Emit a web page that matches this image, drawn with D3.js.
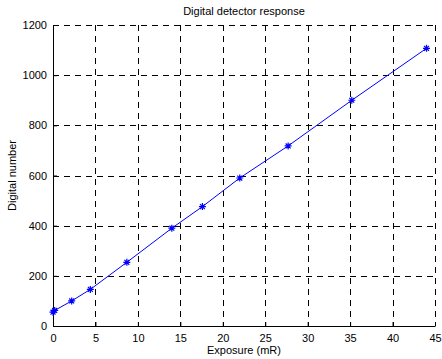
<!DOCTYPE html>
<html>
<head>
<meta charset="utf-8">
<script src="https://cdn.jsdelivr.net/npm/d3@7"></script>
<style>
  body { margin: 0; background: #fff; }
  svg { display: block; font-family: "Liberation Sans", Arial, sans-serif; }
  .grid line { stroke: #000; stroke-dasharray: 6,5; stroke-width: 1; }
  .tick text { font-size: 11px; fill: #000; }
</style>
</head>
<body>
<div id="chart"></div>
<script>
// exposure (mR) and digital number
const exposure = [0, 0.2, 2.2, 4.4, 8.7, 14, 17.6, 22, 27.7, 35.2, 44];
const digital = [55, 62, 100, 146, 254, 390, 476, 590, 718, 900, 1107];
const xTicks = [0, 5, 10, 15, 20, 25, 30, 35, 40, 45];
const yTicks = [0, 200, 400, 600, 800, 1000, 1200];

const W = 442, H = 359;
const margin = {top: 25, right: 7, bottom: 33, left: 53};
const width = W - margin.left - margin.right;
const height = H - margin.top - margin.bottom;

const svg = d3.select('#chart').append('svg')
    .attr('width', W)
    .attr('height', H);

const g = svg.append('g')
    .attr('transform', `translate(${margin.left},${margin.top})`);

const x = d3.scaleLinear().domain([0, 45]).range([0, width]);
const y = d3.scaleLinear().domain([0, 1200]).range([height, 0]);

// dashed grid
const grid = g.append('g').attr('class', 'grid');
grid.selectAll('.gx').data(xTicks.slice(1)).enter().append('line')
    .attr('x1', d => Math.round(x(d)) + 0.5).attr('x2', d => Math.round(x(d)) + 0.5)
    .attr('y1', 0).attr('y2', height);
grid.selectAll('.gy').data(yTicks.slice(1)).enter().append('line')
    .attr('y1', d => Math.round(y(d)) + 0.5).attr('y2', d => Math.round(y(d)) + 0.5)
    .attr('x1', 0).attr('x2', width);

// axes
g.append('g')
    .attr('transform', `translate(0,${height})`)
    .call(d3.axisBottom(x).tickValues(xTicks).tickFormat(d3.format('d'))
        .tickSizeInner(-4).tickSizeOuter(0).tickPadding(8))
    .call(a => a.select('.domain').attr('stroke', '#000'))
    .call(a => a.selectAll('.tick line').attr('stroke', '#000'));

g.append('g')
    .call(d3.axisLeft(y).tickValues(yTicks).tickFormat(d3.format('d'))
        .tickSizeInner(-4).tickSizeOuter(0).tickPadding(6))
    .call(a => a.select('.domain').attr('stroke', '#000'))
    .call(a => a.selectAll('.tick line').attr('stroke', '#000'));

// line
const line = d3.line()
    .x((d, i) => x(exposure[i]))
    .y(d => y(d));

g.append('path')
    .datum(digital)
    .attr('fill', 'none')
    .attr('stroke', '#0000ff')
    .attr('stroke-width', 1)
    .attr('d', line);

// asterisk markers
const r = 3.5;
const star = `M${-r},0H${r}M0,${-r}V${r}M${-r*0.7},${-r*0.7}L${r*0.7},${r*0.7}M${-r*0.7},${r*0.7}L${r*0.7},${-r*0.7}`;
g.selectAll('.pt').data(digital).enter().append('path')
    .attr('class', 'pt')
    .attr('transform', (d, i) => `translate(${x(exposure[i])},${y(d)})`)
    .attr('d', star)
    .attr('stroke', '#0000ff')
    .attr('stroke-width', 1.2)
    .attr('fill', 'none');

// labels
svg.append('text')
    .attr('x', margin.left + width / 2).attr('y', 15)
    .attr('text-anchor', 'middle').attr('font-size', 11)
    .text('Digital detector response');

svg.append('text')
    .attr('x', margin.left + width / 2).attr('y', 354)
    .attr('text-anchor', 'middle').attr('font-size', 11)
    .text('Exposure (mR)');

svg.append('text')
    .attr('transform', `translate(16,${margin.top + height / 2}) rotate(-90)`)
    .attr('text-anchor', 'middle').attr('font-size', 11)
    .text('Digital number');
</script>
</body>
</html>
